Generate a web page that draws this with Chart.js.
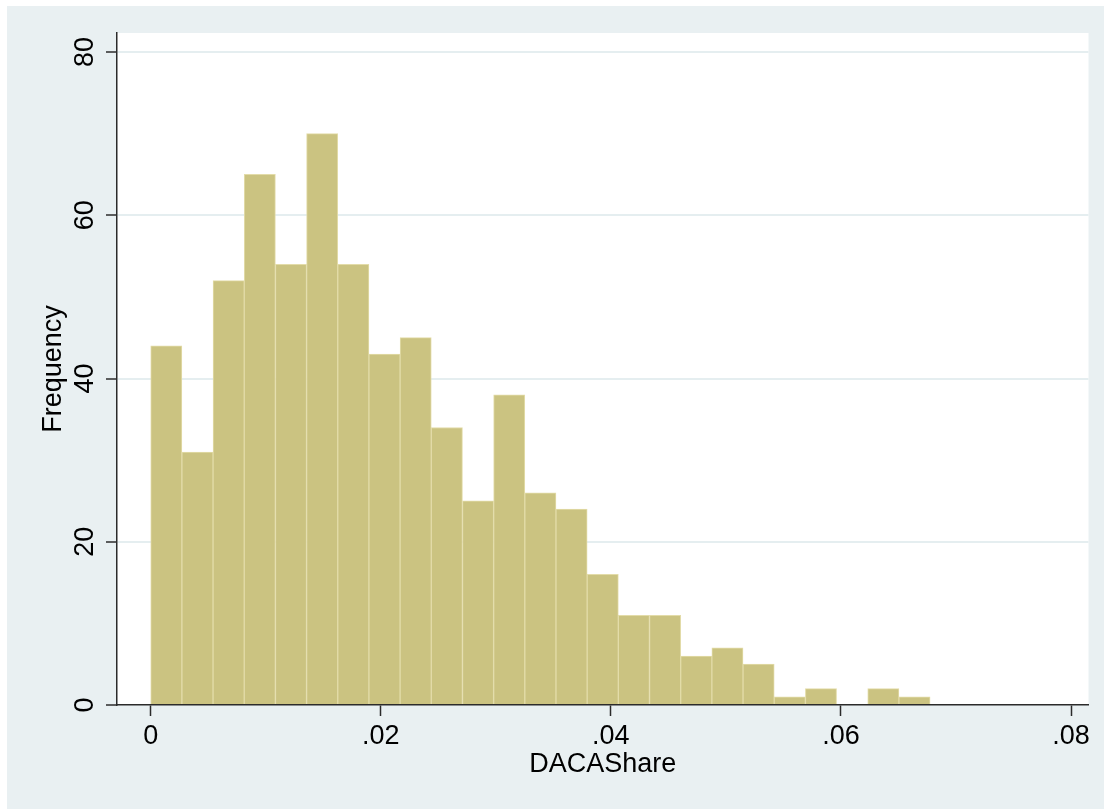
<!DOCTYPE html>
<html>
<head>
<meta charset="utf-8">
<script src="https://cdn.jsdelivr.net/npm/chart.js@4.4.1/dist/chart.umd.min.js"></script>
<style>
  html, body { margin: 0; padding: 0; background: #fff; }
  #wrap { width: 1104px; height: 809px; position: relative; }
</style>
</head>
<body>
<div id="wrap"><canvas id="hist"></canvas></div>
<script>
// DACAShare histogram, 25 bins (Stata default)
const binStart = 0;
const binWidth = 0.00271;
const counts = [44, 31, 52, 65, 54, 70, 54, 43, 45, 34, 25, 38, 26, 24, 16, 11, 11, 6, 7, 5, 1, 2, 0, 2, 1];
const xTicks = [0, 0.02, 0.04, 0.06, 0.08];
const yTicks = [0, 20, 40, 60, 80];

const FONT = '"Liberation Sans", Arial, Helvetica, sans-serif';
const AXIS = '#2b2b2b';

const background = {
  id: 'background',
  beforeDraw(chart) {
    const { ctx, chartArea: a } = chart;
    ctx.save();
    ctx.fillStyle = '#ffffff';
    ctx.fillRect(0, 0, chart.width, chart.height);
    ctx.fillStyle = '#e9f0f2';
    ctx.fillRect(7, 6, chart.width - 7, chart.height - 6);
    ctx.fillStyle = '#ffffff';
    ctx.fillRect(a.left, a.top, a.right - a.left, a.bottom - a.top);
    ctx.restore();
  }
};

const fmtX = v => v === 0 ? '0' : v.toFixed(2).replace(/^0\./, '.');

new Chart(document.getElementById('hist'), {
  type: 'bar',
  data: {
    datasets: [{
      data: counts.map((c, i) => ({ x: binStart + (i + 0.5) * binWidth, y: c })),
      backgroundColor: '#cbc381',
      borderColor: '#e3dca9',
      borderWidth: 1,
      barPercentage: 1,
      categoryPercentage: 1
    }]
  },
  options: {
    responsive: true,
    maintainAspectRatio: false,
    devicePixelRatio: 1,
    animation: false,
    layout: { padding: { left: 0, top: 33, right: 15.5, bottom: 0 } },
    plugins: {
      legend: { display: false },
      tooltip: { enabled: false }
    },
    scales: {
      x: {
        type: 'linear',
        min: -0.00293,
        max: 0.08152,
        offset: false,
        afterBuildTicks: s => { s.ticks = xTicks.map(v => ({ value: v })); },
        afterFit: s => { s.height = 104; },
        ticks: {
          callback: v => fmtX(v),
          font: { family: FONT, size: 27 },
          color: '#000',
          padding: 4,
          maxRotation: 0,
          autoSkip: false
        },
        grid: {
          drawOnChartArea: false,
          offset: false,
          tickLength: 11,
          tickColor: AXIS,
          tickWidth: 1.5
        },
        border: { color: AXIS, width: 1.5 },
        title: {
          display: true,
          text: 'DACAShare',
          color: '#000',
          font: { family: FONT, size: 27 },
          padding: { top: 0, bottom: 28 }
        }
      },
      y: {
        type: 'linear',
        min: 0,
        max: 82.33,
        afterBuildTicks: s => { s.ticks = yTicks.map(v => ({ value: v })); },
        afterFit: s => { s.width = 117; },
        ticks: {
          font: { family: FONT, size: 27 },
          color: '#000',
          minRotation: 90,
          maxRotation: 90,
          crossAlign: 'center',
          padding: 5,
          autoSkip: false
        },
        grid: {
          color: c => (c.tick && c.tick.value === 0) ? 'rgba(0,0,0,0)' : '#e5eef0',
          lineWidth: 2,
          tickLength: 11,
          tickColor: AXIS,
          tickWidth: 1.5
        },
        border: { color: AXIS, width: 1.5 },
        title: {
          display: true,
          text: 'Frequency',
          color: '#000',
          font: { family: FONT, size: 27 },
          padding: { top: 37, bottom: 0 }
        }
      }
    }
  },
  plugins: [background]
});
</script>
</body>
</html>
